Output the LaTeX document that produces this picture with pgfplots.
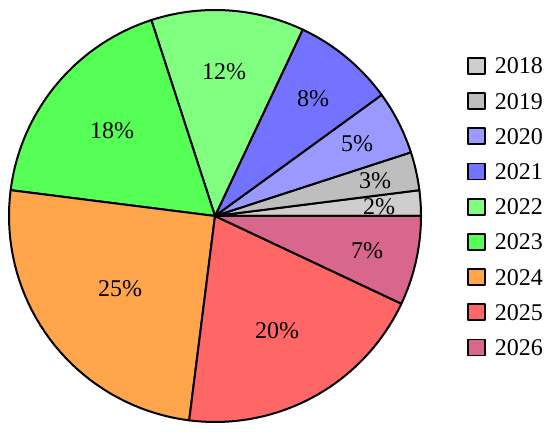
\documentclass[border=0pt]{standalone}
\usepackage{fontspec}
\setmainfont{Liberation Serif}
\usepackage{pgfplots}
\pgfplotsset{compat=1.18}
\definecolor{c2018}{RGB}{206,206,206}
\definecolor{c2019}{RGB}{190,190,190}
\definecolor{c2020}{RGB}{153,153,255}
\definecolor{c2021}{RGB}{115,115,255}
\definecolor{c2022}{RGB}{128,255,128}
\definecolor{c2023}{RGB}{85,255,85}
\definecolor{c2024}{RGB}{255,166,77}
\definecolor{c2025}{RGB}{255,102,102}
\definecolor{c2026}{RGB}{217,102,140}
% shares (%): 2018 2, 2019 3, 2020 5, 2021 8, 2022 12, 2023 18, 2024 25, 2025 20, 2026 7
% domains below are the cumulative shares
\begin{document}
\begin{tikzpicture}
\begin{axis}[
  width=275pt, height=216pt, scale only axis,
  xmin=0, xmax=550, ymin=0, ymax=432,
  hide axis, clip=false,
  legend style={at={(axis cs:467,375)}, anchor=north west, draw=none, fill=none,
    inner sep=0pt, outer sep=0pt,
    font=\fontsize{12}{14}\selectfont,
    nodes={inner sep=0pt, text height=8pt, text depth=0pt},
    row sep=8.7pt, column sep=4.5pt},
  legend cell align=left,
  legend image code/.code={\draw[#1, draw=black, line width=0.9pt] (0pt,-4pt) rectangle (8.5pt,4pt);},
  every axis plot/.append style={draw=black, line width=1pt, line join=round, samples=40},
]
\addplot[fill=c2018, domain=0:2]   ({215+206*cos(3.6*x)},{216+206*sin(3.6*x)}) -- (axis cs:215,216) -- cycle;
\addlegendentry{2018}
\addplot[fill=c2019, domain=2:5]   ({215+206*cos(3.6*x)},{216+206*sin(3.6*x)}) -- (axis cs:215,216) -- cycle;
\addlegendentry{2019}
\addplot[fill=c2020, domain=5:10]  ({215+206*cos(3.6*x)},{216+206*sin(3.6*x)}) -- (axis cs:215,216) -- cycle;
\addlegendentry{2020}
\addplot[fill=c2021, domain=10:18] ({215+206*cos(3.6*x)},{216+206*sin(3.6*x)}) -- (axis cs:215,216) -- cycle;
\addlegendentry{2021}
\addplot[fill=c2022, domain=18:30] ({215+206*cos(3.6*x)},{216+206*sin(3.6*x)}) -- (axis cs:215,216) -- cycle;
\addlegendentry{2022}
\addplot[fill=c2023, domain=30:48] ({215+206*cos(3.6*x)},{216+206*sin(3.6*x)}) -- (axis cs:215,216) -- cycle;
\addlegendentry{2023}
\addplot[fill=c2024, domain=48:73] ({215+206*cos(3.6*x)},{216+206*sin(3.6*x)}) -- (axis cs:215,216) -- cycle;
\addlegendentry{2024}
\addplot[fill=c2025, domain=73:93] ({215+206*cos(3.6*x)},{216+206*sin(3.6*x)}) -- (axis cs:215,216) -- cycle;
\addlegendentry{2025}
\addplot[fill=c2026, domain=93:100] ({215+206*cos(3.6*x)},{216+206*sin(3.6*x)}) -- (axis cs:215,216) -- cycle;
\addlegendentry{2026}
\begin{scope}[font=\fontsize{12}{14}\selectfont]
\node at (axis cs:379,225) {2\%};
\node at (axis cs:375,251) {3\%};
\node at (axis cs:357,288) {5\%};
\node at (axis cs:313,333) {8\%};
\node at (axis cs:224,360) {12\%};
\node at (axis cs:112,301) {18\%};
\node at (axis cs:120,143) {25\%};
\node at (axis cs:277,101) {20\%};
\node at (axis cs:367,181) {7\%};
\end{scope}
\path (axis cs:0,0) rectangle (axis cs:550,432);
\end{axis}
\end{tikzpicture}
\end{document}
